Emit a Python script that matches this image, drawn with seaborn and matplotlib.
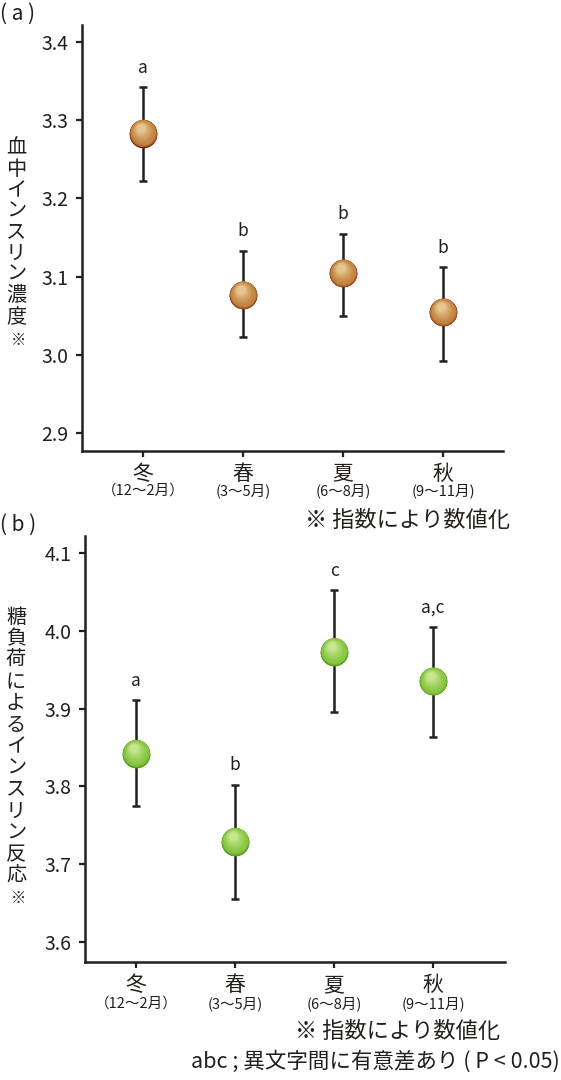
import numpy as np
import pandas as pd
import matplotlib
matplotlib.use("Agg")
import matplotlib.pyplot as plt
import seaborn as sns
from matplotlib.transforms import ScaledTranslation
from matplotlib.colors import to_rgb

# ---------------- data ----------------
seasons = ["冬", "春", "夏", "秋"]
months = ["（12～2月）", "(3～5月)", "(6～8月)", "(9～11月)"]

insulin_mean = [3.283, 3.076, 3.104, 3.054]
insulin_upper = [3.342, 3.133, 3.155, 3.112]
insulin_lower = [3.222, 3.023, 3.050, 2.992]
insulin_sig = ["a", "b", "b", "b"]
insulin_yticks = [2.9, 3.0, 3.1, 3.2, 3.3, 3.4]

glucose_mean = [3.842, 3.729, 3.973, 3.935]
glucose_upper = [3.911, 3.802, 4.052, 4.005]
glucose_lower = [3.775, 3.655, 3.896, 3.864]
glucose_sig = ["a", "b", "c", "a,c"]
glucose_yticks = [3.6, 3.7, 3.8, 3.9, 4.0, 4.1]

label_a = "血中インスリン濃度"
label_b = "糖負荷によるインスリン反応"
note_text = "※ 指数により数値化"
footer_text = "abc ; 異文字間に有意差あり ( P < 0.05)"

# ---------------- style ----------------
sns.set_theme(style="ticks")
plt.rcParams["font.family"] = ["Noto Sans CJK JP", "DejaVu Sans"]
INK = "#231f1c"

W, H = 561, 1080
fig = plt.figure(figsize=(W / 100, H / 100), dpi=100)
fig.patch.set_facecolor("white")


def px_axes(left, top, right, bottom):
    return fig.add_axes([left / W, 1 - bottom / H, (right - left) / W, (bottom - top) / H])


def lerp(c1, c2, t):
    a = np.array(to_rgb(c1)); b = np.array(to_rgb(c2))
    return tuple(a + (b - a) * t)


def spheres(ax, x, y, dark, mid, light, D=20.0):
    df = pd.DataFrame({"x": x, "y": y})
    sns.scatterplot(data=df, x="x", y="y", ax=ax, s=D ** 2, color=dark,
                    linewidth=0, zorder=3, legend=False)
    n1, n2 = 8, 22
    for i in range(1, n1 + 1):
        t = i / n1
        d = D * (1 - 0.1 * t)
        cy = 0.05 * D * t
        tr = ax.transData + ScaledTranslation(0, cy / 72, fig.dpi_scale_trans)
        ax.scatter(x, y, s=d ** 2, color=lerp(dark, mid, t ** 0.7), linewidths=0,
                   transform=tr, zorder=3 + 0.01 * i)
    for i in range(1, n2 + 1):
        t = i / n2
        d = D * (0.9 - 0.62 * t)
        cy = 0.05 * D + 0.16 * D * t
        cx = -0.09 * D * t
        tr = ax.transData + ScaledTranslation(cx / 72, cy / 72, fig.dpi_scale_trans)
        ax.scatter(x, y, s=d ** 2, color=lerp(mid, light, t ** 1.3), linewidths=0,
                   transform=tr, zorder=3.2 + 0.01 * i)


def panel(ax, mean, upper, lower, sig, yticks, ylim, xlim, dark, mid, light,
          season_off, month_off):
    x = np.arange(len(seasons))
    mean = np.array(mean); up = np.array(upper); lo = np.array(lower)
    ax.errorbar(x, mean, yerr=[mean - lo, up - mean], fmt="none", ecolor=INK,
                elinewidth=1.8, capsize=3.2, capthick=1.8, zorder=2)
    spheres(ax, x, mean, dark, mid, light)
    for xi, yi, s in zip(x, up, sig):
        ax.annotate(s, (xi, yi), xytext=(0, 14), textcoords="offset points",
                    ha="center", va="center", fontsize=12.5, color=INK)
    ax.set_xlim(*xlim)
    ax.set_ylim(*ylim)
    ax.set_yticks(yticks)
    ax.set_yticklabels([f"{v:.1f}" for v in yticks])
    ax.set_xticks(x)
    ax.set_xticklabels([""] * len(x))
    for xi, s, m in zip(x, seasons, months):
        ax.annotate(s, (xi, 0), xycoords=("data", "axes fraction"),
                    xytext=(0, -season_off), textcoords="offset points",
                    ha="center", va="center", fontsize=15, color=INK)
        ax.annotate(m, (xi, 0), xycoords=("data", "axes fraction"),
                    xytext=(0, -month_off), textcoords="offset points",
                    ha="center", va="center", fontsize=10.5, color=INK)
    ax.set_xlabel(""); ax.set_ylabel("")
    for side in ["top", "right"]:
        ax.spines[side].set_visible(False)
    for side in ["left", "bottom"]:
        ax.spines[side].set_linewidth(1.8)
        ax.spines[side].set_color(INK)
    ax.tick_params(axis="both", length=4.5, width=1.6, color=INK,
                   labelcolor=INK, labelsize=14, pad=5)
    ax.set_facecolor("white")


# panel (a)
ax1 = px_axes(81.7, 25, 502.7, 450.7)
panel(ax1, insulin_mean, insulin_upper, insulin_lower, insulin_sig, insulin_yticks,
      (2.877, 3.422), (-0.613, 3.597), "#7a1f10", "#c0823c", "#e8c590",
      16.5, 29)

# panel (b)
ax2 = px_axes(85, 536, 505, 961.7)
panel(ax2, glucose_mean, glucose_upper, glucose_lower, glucose_sig, glucose_yticks,
      (3.5747, 4.122), (-0.515, 3.727), "#4f8f1c", "#86c53e", "#c6e690",
      16.8, 30)

# panel tags
fig.text(0 / W, 1 - 14 / H, "( a )", fontsize=15, ha="left", va="center", color=INK)
fig.text(0 / W, 1 - 525 / H, "( b )", fontsize=15, ha="left", va="center", color=INK)

# vertical y-axis labels (stacked upright characters)
def vlabel(text, x_px, y0_px, pitch, mark_y):
    for k, ch in enumerate(text):
        fig.text(x_px / W, 1 - (y0_px + pitch * k) / H, ch, fontsize=14.5,
                 ha="center", va="center", color=INK)
    fig.text((x_px + 2) / W, 1 - mark_y / H, "※", fontsize=11, ha="center",
             va="center", color=INK)

vlabel(label_a, 16, 148.5, 21.0, 340)
vlabel(label_b, 16, 617.8, 21.5, 898)

# notes
fig.text(510 / W, 1 - 520 / H, note_text, fontsize=16, ha="right", va="center", color=INK)
fig.text(500 / W, 1 - 1031.5 / H, note_text, fontsize=16, ha="right", va="center", color=INK)
fig.text(560 / W, 1 - 1062 / H, footer_text, fontsize=15.5, ha="right", va="center", color=INK)

fig.savefig("out.png", dpi=100, facecolor="white")
